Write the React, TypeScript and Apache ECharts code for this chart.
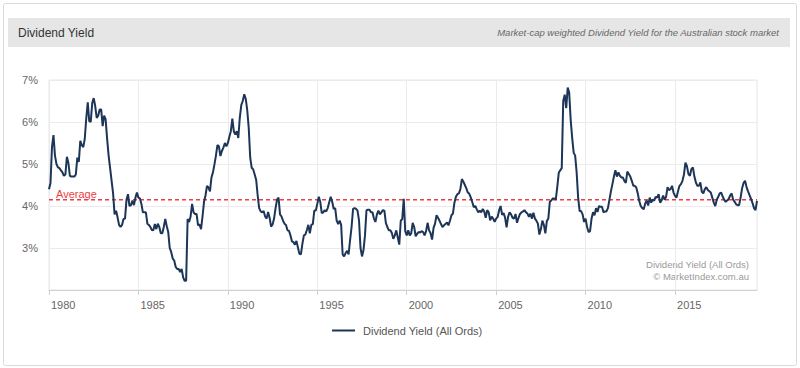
import React, { useEffect, useRef } from "react";
import * as echarts from "echarts";

const START_YEAR = 1980;
const SERIES_NAME = "Dividend Yield (All Ords)";
const AVERAGE = 4.15;
const TITLE = "Dividend Yield";
const SUBTITLE = "Market-cap weighted Dividend Yield for the Australian stock market";
const CREDIT_1 = "Dividend Yield (All Ords)";
const CREDIT_2 = "© MarketIndex.com.au";

// Monthly dividend yield (%), Jan 1980 onward
const yield1980s = [
  4.40, 4.55, 5.40, 5.69, 5.20, 5.00, 4.92, 4.90, 4.85, 4.80, 4.72, 4.75,
  5.17, 5.03, 4.72, 4.70, 4.70, 4.70, 4.75, 5.15, 5.05, 5.55, 5.45, 5.40,
  5.60, 6.09, 6.47, 6.02, 6.00, 6.45, 6.57, 6.38, 6.10, 6.15, 6.30, 6.30,
  5.90, 6.15, 6.06, 5.60, 5.20, 4.90, 4.60, 4.30, 3.80, 3.89, 3.73, 3.55,
  3.50, 3.55, 3.69, 3.70, 4.15, 4.28, 4.00, 4.02, 4.13, 4.02, 4.20, 4.32,
  4.20, 4.18, 4.05, 3.85, 3.85, 3.85, 3.58, 3.55, 3.50, 3.43, 3.42, 3.57,
  3.45, 3.58, 3.50, 3.35, 3.35, 3.50, 3.69, 3.52, 3.38, 3.00, 2.90, 2.75,
  2.70, 2.55, 2.50, 2.50, 2.43, 2.50, 2.30, 2.22, 2.22, 3.69, 3.62, 3.75,
  4.05, 3.85, 3.81, 3.81, 3.54, 3.56, 3.45, 3.75, 4.10, 4.25, 4.48, 4.44,
  4.35, 4.68, 4.80, 4.99, 5.20, 5.45, 5.42, 5.19, 5.31, 5.39, 5.50, 5.42,
];
const yield1990s = [
  5.50, 5.65, 5.78, 6.08, 5.78, 5.70, 5.78, 5.62, 6.10, 6.40, 6.50, 6.66,
  6.55, 6.28, 5.86, 5.15, 4.91, 4.87, 4.75, 4.62, 4.25, 3.95, 3.87, 3.85,
  3.88, 3.75, 3.70, 3.86, 3.72, 3.51, 3.56, 3.70, 3.95, 4.15, 4.20, 3.80,
  3.75, 3.65, 3.58, 3.55, 3.42, 3.41, 3.30, 3.16, 3.14, 3.08, 3.17, 3.01,
  2.86, 2.85, 3.10, 3.30, 3.32, 3.43, 3.55, 3.35, 3.55, 3.57, 3.89, 3.89,
  4.05, 4.22, 4.10, 3.83, 3.85, 3.90, 3.87, 3.95, 4.09, 4.22, 4.10, 3.93,
  3.95, 3.65, 3.57, 3.65, 3.55, 2.85, 2.80, 2.88, 2.93, 2.85, 3.19, 3.50,
  3.93, 3.95, 3.93, 3.89, 3.65, 3.00, 2.80, 2.95, 3.30, 3.90, 3.91, 3.91,
  3.85, 3.85, 3.70, 3.62, 3.80, 3.89, 3.80, 3.85, 3.90, 3.89, 3.60, 3.50,
  3.42, 3.42, 3.36, 3.22, 3.30, 3.42, 3.25, 3.08, 3.65, 3.69, 4.17, 3.40,
];
const yield2000s = [
  3.30, 3.42, 3.30, 3.35, 3.60, 3.50, 3.28, 3.34, 3.38, 3.37, 3.40, 3.38,
  3.30, 3.40, 3.60, 3.42, 3.35, 3.20, 3.48, 3.58, 3.78, 3.72, 3.65, 3.57,
  3.50, 3.54, 3.57, 3.61, 3.54, 3.65, 3.78, 3.82, 4.08, 4.22, 4.28, 4.30,
  4.40, 4.64, 4.58, 4.50, 4.42, 4.32, 4.29, 4.20, 4.09, 3.97, 4.00, 3.92,
  3.85, 3.89, 3.85, 3.93, 3.87, 3.72, 3.90, 3.85, 3.66, 3.75, 3.70, 3.62,
  3.70, 3.74, 3.90, 4.00, 3.79, 3.83, 3.72, 3.49, 3.74, 3.85, 3.80, 3.72,
  3.70, 3.81, 3.60, 3.72, 3.81, 3.85, 3.87, 3.90, 3.85, 3.82, 3.74, 3.82,
  3.70, 3.84, 3.70, 3.65, 3.58, 3.32, 3.45, 3.65, 3.55, 3.35, 3.64, 3.70,
  4.10, 4.13, 4.18, 4.18, 4.15, 4.45, 4.79, 4.85, 4.90, 6.50, 6.65, 6.33,
  6.82, 6.70, 6.05, 5.62, 5.27, 5.20, 4.80, 4.20, 3.88, 3.88, 3.80, 3.62,
];
const yield2010s = [
  3.70, 3.50, 3.38, 3.40, 3.70, 3.85, 3.78, 3.95, 3.86, 4.00, 3.98, 3.98,
  3.85, 3.87, 3.87, 3.95, 4.15, 4.35, 4.52, 4.70, 4.85, 4.70, 4.80, 4.72,
  4.68, 4.68, 4.60, 4.55, 4.82, 4.76, 4.70, 4.60, 4.48, 4.48, 4.44, 4.30,
  4.12, 4.00, 3.95, 3.92, 4.06, 4.13, 4.01, 4.20, 4.08, 4.15, 4.13, 4.22,
  4.20, 4.28, 4.08, 4.13, 4.25, 4.15, 4.22, 4.45, 4.38, 4.40, 4.48, 4.32,
  4.24, 4.20, 4.35, 4.48, 4.52, 4.60, 4.75, 5.03, 4.95, 4.76, 4.72, 4.88,
  4.92, 4.70, 4.56, 4.48, 4.48, 4.56, 4.34, 4.30, 4.40, 4.45, 4.38, 4.35,
  4.32, 4.20, 4.08, 4.00, 4.15, 4.22, 4.30, 4.32, 4.22, 4.15, 4.10, 4.13,
  4.17, 4.25, 4.30, 4.15, 4.10, 4.04, 4.02, 4.02, 4.20, 4.42, 4.55, 4.60,
  4.45, 4.35, 4.26, 4.17, 4.07, 3.95, 3.90, 4.12,
];

const yieldValues = [...yield1980s, ...yield1990s, ...yield2000s, ...yield2010s];
const months = yieldValues.map((_, i) => {
  const y = START_YEAR + Math.floor(i / 12);
  const m = (i % 12) + 1;
  return `${y}-${m < 10 ? "0" + m : m}`;
});
const LAST = yieldValues.length - 1;

const FONT = "'Liberation Sans', Arial, Helvetica, sans-serif";
const RED = "#ee3d42";
const NAVY = "#1d3557";
const every5y = (index: number) => index % 60 === 0;

// Average reference line: only its two ends are given, the line joins them
const averageData = months.map((_, i) => {
  if (i === 0) {
    return {
      value: AVERAGE,
      label: {
        show: true,
        formatter: "Average",
        position: [7, -11],
        color: RED,
        fontSize: 11,
        fontFamily: FONT,
      },
    };
  }
  if (i === LAST) return AVERAGE;
  return null;
});

export default function App() {
  const ref = useRef<HTMLDivElement>(null);
  useEffect(() => {
    if (!ref.current) return;
    const chart = echarts.init(ref.current, undefined, { renderer: "svg" });
    chart.setOption({
      animation: false,
      backgroundColor: "#ffffff",
      color: [NAVY, RED],
      textStyle: { fontFamily: FONT },
      grid: {
        left: 49,
        right: 43,
        top: 80,
        bottom: 78,
        show: true,
        borderColor: "#e6e6e6",
        borderWidth: 1,
      },
      legend: {
        data: [SERIES_NAME],
        left: 327,
        top: 320,
        icon: "rect",
        itemWidth: 23,
        itemHeight: 2,
        textStyle: { color: "#555", fontSize: 11, fontFamily: FONT, padding: [0, 0, 0, 3] },
      },
      xAxis: {
        type: "category",
        data: months,
        boundaryGap: false,
        axisLine: { show: true, lineStyle: { color: "#d0d0d0" } },
        axisTick: { show: true, interval: (i: number) => every5y(i), length: 5, lineStyle: { color: "#d0d0d0" } },
        axisLabel: {
          interval: (i: number) => every5y(i),
          formatter: (v: string) => v.slice(0, 4),
          color: "#666",
          fontSize: 11,
          align: "left",
          padding: [0, 0, 0, 2],
          margin: 9,
        },
        splitLine: { show: true, interval: (i: number) => every5y(i), lineStyle: { color: "#ebebeb" } },
      },
      yAxis: {
        type: "value",
        min: 2,
        max: 7,
        interval: 1,
        axisLine: { show: false },
        axisTick: { show: false },
        axisLabel: { formatter: "{value}%", color: "#666", fontSize: 11, margin: 11, showMinLabel: false },
        splitLine: { lineStyle: { color: "#ebebeb" } },
      },
      series: [
        {
          name: "Average",
          type: "line",
          data: averageData,
          connectNulls: true,
          symbol: "circle",
          symbolSize: 0,
          showSymbol: true,
          color: RED,
          itemStyle: { color: RED },
          lineStyle: { color: RED, type: [4, 3], width: 1.5 },
          z: 2,
          silent: true,
        },
        {
          name: SERIES_NAME,
          type: "line",
          data: yieldValues,
          showSymbol: false,
          symbol: "none",
          color: NAVY,
          lineStyle: { color: NAVY, width: 2 },
          z: 3,
        },
      ],
      graphic: [
        {
          type: "rect",
          shape: { x: 3.5, y: 3.5, width: 793, height: 362, r: 2 },
          style: { fill: "none", stroke: "#d6dcdc", lineWidth: 1 },
          silent: true,
        },
        {
          type: "rect",
          shape: { x: 8, y: 18, width: 782, height: 29 },
          style: { fill: "#e6e6e6" },
          silent: true,
        },
        {
          type: "text",
          x: 18,
          y: 32.5,
          style: { text: TITLE, fill: "#333", fontSize: 12, fontFamily: FONT, textVerticalAlign: "middle" },
          silent: true,
        },
        {
          type: "text",
          x: 779,
          y: 32.5,
          style: {
            text: SUBTITLE,
            fill: "#666",
            fontSize: 9.5,
            fontStyle: "italic",
            fontFamily: FONT,
            textAlign: "right",
            textVerticalAlign: "middle",
          },
          silent: true,
        },
        {
          type: "text",
          x: 749,
          y: 264,
          style: { text: CREDIT_1, fill: "#999", fontSize: 9.5, fontFamily: FONT, textAlign: "right", textVerticalAlign: "middle" },
          silent: true,
        },
        {
          type: "text",
          x: 749,
          y: 276.5,
          style: { text: CREDIT_2, fill: "#999", fontSize: 9.5, fontFamily: FONT, textAlign: "right", textVerticalAlign: "middle" },
          silent: true,
        },
      ],
    });
    return () => chart.dispose();
  }, []);
  return <div ref={ref} style={{ position: "fixed", left: 0, top: 0, width: 800, height: 368 }} />;
}
